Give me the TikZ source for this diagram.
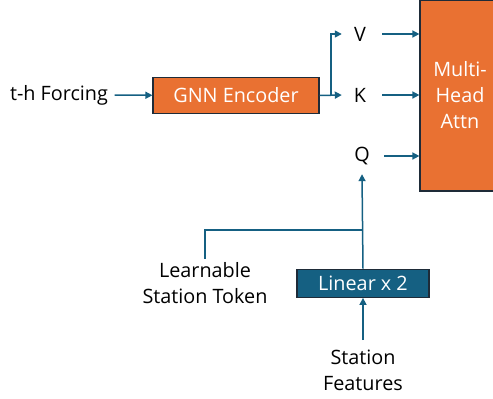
\documentclass[tikz,border=0pt]{standalone}
\usepackage{fontspec}
\setmainfont{Open Sans}
\usetikzlibrary{arrows.meta}
\definecolor{attnorange}{HTML}{E97132}
\definecolor{linblue}{HTML}{156082}
\definecolor{edgedark}{HTML}{1E2B38}

\begin{document}
\begin{tikzpicture}[x=1pt,y=-1pt,
        every node/.style={font=\fontsize{19.8}{26}\selectfont, align=center},
        blk/.style={draw=edgedark, line width=1.2pt, text=white, inner sep=0pt},
        qkv/.style={minimum size=36pt, inner sep=0pt},
        link/.style={draw=linblue, line width=1.5pt},
        arr/.style={link, -{Triangle[length=7pt,width=7pt]}}]
            \useasboundingbox (0,0) rectangle (493,399);
            \clip (0,0) rectangle (493,399);
            % attention block, cut by the right edge
            \node[blk, fill=attnorange, minimum width=80pt, minimum height=191pt] (attn) at (460,95.5) {Multi-\\Head\\Attn};
            \node[blk, fill=attnorange, minimum width=166pt, minimum height=35.5pt] (enc) at (236,95.5) {GNN Encoder};
            \node[blk, fill=linblue, minimum width=132pt, minimum height=28pt] (lin) at (363,283.3) {Linear x 2};
            \node (forcing) at (59,95) {t-h Forcing};
            \node[qkv] (V) at (360,34) {V};
            \node[qkv] (K) at (360,95) {K};
            \node[qkv] (Q) at (362,156) {Q};
            \node (tok) at (205,283) {Learnable\\Station Token};
            \node (feat) at (363,370) {Station\\Features};
            \coordinate (fork) at (331,95);
            \coordinate (join) at (363,230);
            % connectors
            \draw[arr, shorten <=3pt] (forcing) -- (enc);
            \draw[arr] (enc.east) -- (K.west);
            \draw[arr] (fork) |- (V.west);
            \foreach \n in {V,K,Q} {
                \draw[arr, shorten <=4pt] (\n.east) -- (\n.east -| attn.west);
            }
            \draw[arr] (lin.north) -- (Q.south);
            \draw[link] (tok.north) |- (join);
            \draw[arr, shorten <=6pt] (feat.north) -- (lin.south);
        \end{tikzpicture}
\end{document}
